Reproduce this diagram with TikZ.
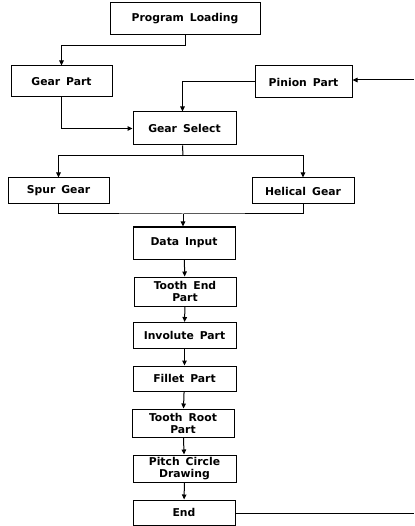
\documentclass[tikz,border=0pt]{standalone}
\usepackage{fontspec}
\setmainfont{DejaVu Sans}
\usetikzlibrary{arrows.meta}
\newcommand{\myboxfont}{\bfseries\fontsize{10.8}{12}\selectfont\spaceskip=6pt\relax}
\begin{document}
\begin{tikzpicture}[x=1pt,y=-1pt,
  box/.style={draw,line width=1pt,inner sep=0.5pt,align=center,font=\myboxfont},
  conn/.style={line width=1pt},
  arr/.style={conn,-{Triangle[length=5pt,width=4.5pt]}}]
\useasboundingbox (0,0) rectangle (414,526);
\node[box,minimum width=150pt,minimum height=32pt] (pl) at (185,19) {Program Loading};
\node[box,minimum width=101pt,minimum height=31pt] (gp) at (61.5,81.5) {Gear Part};
\node[box,minimum width=97pt,minimum height=32pt] (pp) at (303.5,82) {Pinion Part};
\node[box,minimum width=103pt,minimum height=33pt] (gs) at (184.5,128.5) {Gear Select};
\node[box,minimum width=101pt,minimum height=26pt] (sg) at (58.5,191) {Spur Gear};
\node[box,minimum width=102pt,minimum height=26pt] (hg) at (303,191) {Helical Gear};
\node[box,minimum width=102pt,minimum height=32pt] (di) at (184,243) {Data Input};
\node[box,minimum width=102pt,minimum height=29pt] (te) at (185,291.5) {Tooth End\\Part};
\node[box,minimum width=103pt,minimum height=26pt] (ip) at (184.5,335.5) {Involute Part};
\node[box,minimum width=103pt,minimum height=25pt] (fp) at (184.5,378.5) {Fillet Part};
\node[box,minimum width=102pt,minimum height=28pt] (tr) at (183,423) {Tooth Root\\Part};
\node[box,minimum width=103pt,minimum height=27pt] (pc) at (184.5,468.5) {Pitch Circle\\Drawing};
\node[box,minimum width=102pt,minimum height=25pt] (en) at (184,512.5) {End};
\coordinate (inR) at (414,80);
\coordinate (outR) at (414,513);
\coordinate (j1) at (183,156);
\coordinate (j2) at (183,214);
\draw[arr] (pl.south) -- ++(0,10) -| (gp.north);
\draw[arr] (gp.south) |- (gs.west);
\draw[arr] (pp.west) -| ([xshift=-2pt]gs.north);
\draw[arr] (inR) -- (inR -| pp.east);
\draw[conn] ([xshift=-2pt]gs.south) -- (j1);
\draw[arr] (j1) -| (sg.north);
\draw[arr] (j1) -| (hg.north);
\draw[conn] (sg.south) |- (j2) -| (hg.south);
\draw[arr] (j2) -- (j2 |- di.north);
\draw[arr] (di) -- (te);
\draw[arr] (te) -- (ip);
\draw[arr] (ip) -- (fp);
\draw[arr] (fp) -- (tr);
\draw[arr] (tr) -- (pc);
\draw[arr] (pc) -- (en);
\draw[conn] (en.east |- outR) -- (outR);
\end{tikzpicture}
\end{document}
